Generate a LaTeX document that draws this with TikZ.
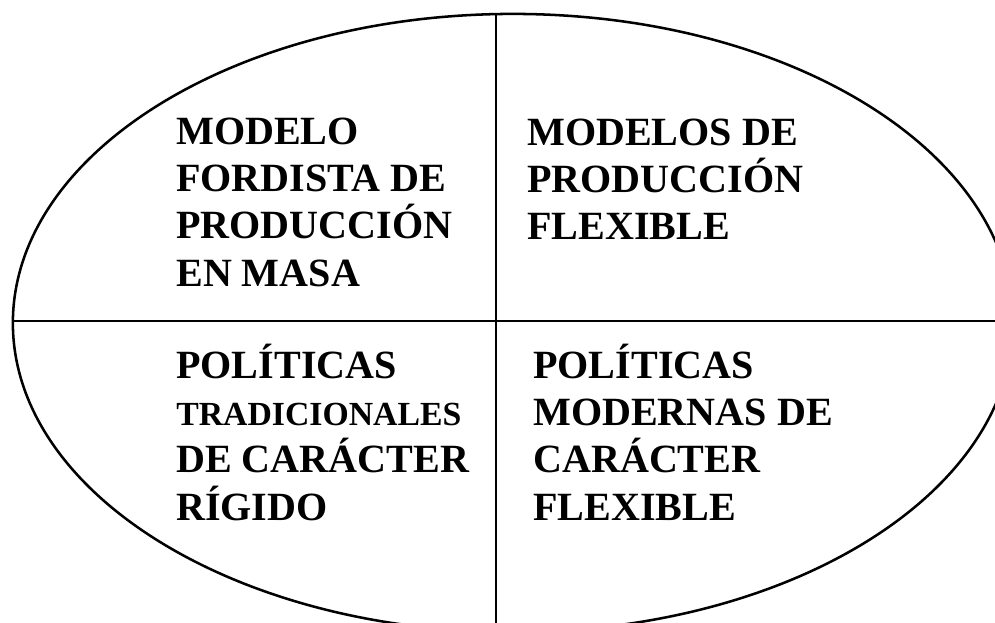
\documentclass[tikz,border=0pt]{standalone}
\usepackage{fontspec}
\setmainfont{Liberation Serif}

\begin{document}
\begin{tikzpicture}[x=0.025cm, y=-0.025cm,
        quad/.style={anchor=base west, inner sep=0pt, align=left, font=\fontsize{28.5}{33.5}\selectfont\bfseries},
        rule/.style={draw, line width=2pt}]
    \useasboundingbox (0,0) rectangle (995,623);
    \clip (0,0) rectangle (995,623);
    \draw[line width=1.8pt] (513,323) ellipse [x radius=12.5cm, y radius=7.725cm];
    \path [rule] (13,321) -- (995,321);
    \path [rule] (496,14) -- (496,623);

    % base anchor sits on the last line
    \node [quad] (fordista) at (176,286) {MODELO\\FORDISTA DE\\PRODUCCIÓN\\EN MASA};
    \node [quad] (flexible) at (527,240) {MODELOS DE\\PRODUCCIÓN\\FLEXIBLE};
    \node [quad] (rigido) at (176,520) {POLÍTICAS\\{\fontsize{24}{33.5}\selectfont TRADICIONALES}\\DE CARÁCTER\\RÍGIDO};
    \node [quad] (moderna) at (533,520) {POLÍTICAS\\MODERNAS DE\\CARÁCTER\\FLEXIBLE};
\end{tikzpicture}
\end{document}
